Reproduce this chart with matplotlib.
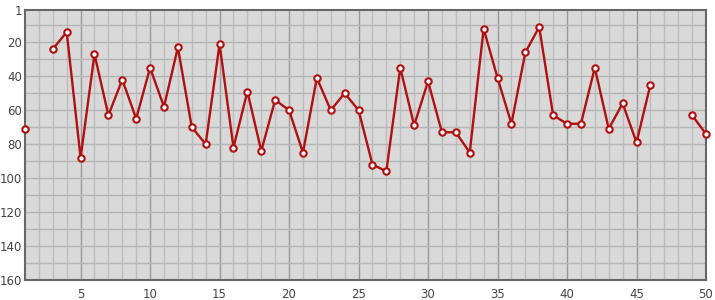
import matplotlib
matplotlib.use("Agg")
import matplotlib.pyplot as plt
import numpy as np

x_values = list(range(1, 51))
y_values = [71, None, 24, 14, 88, 27, 63, 42, 65, 35,
            58, 23, 70, 80, 21, 82, 49, 84, 54, 60,
            85, 41, 60, 50, 60, 92, 96, 35, 69, 43,
            73, 73, 85, 12, 41, 68, 26, 11, 63, 68,
            68, 35, 71, 56, 79, 45, None, None, 63, 74]
y_ticks = [1, 20, 40, 60, 80, 100, 120, 140, 160]
x_ticks = [5, 10, 15, 20, 25, 30, 35, 40, 45, 50]

y = np.array([np.nan if v is None else v for v in y_values], dtype=float)

fig = plt.figure(figsize=(7.15, 3.0), dpi=100)
ax = fig.add_axes([25/715, 20/300, 681/715, 270/300])
ax.set_facecolor("#d9d9d9")

ax.set_xlim(1, 50)
ax.set_ylim(160, 1)

# grid
for xv in range(2, 50):
    c = "#999999" if xv % 5 == 0 else "#bdbdbd"
    ax.axvline(xv, color=c, lw=1, zorder=1)
for yv in range(10, 160, 10):
    ax.axhline(yv, color="#b5b5b5", lw=1, zorder=1)

ax.plot(x_values, y, color="#b01010", lw=1.7, marker="o", ms=4.6,
        mfc="white", mec="#b01010", mew=1.5, zorder=3, clip_on=False)

ax.set_yticks(y_ticks)
ax.set_xticks(x_ticks)
ax.tick_params(length=0, labelsize=8.5, colors="#444444", pad=6)
ax.tick_params(axis="y", pad=2)
for s in ax.spines.values():
    s.set_color("#666666")
    s.set_linewidth(1.5)

fig.savefig("out.png", dpi=100)
